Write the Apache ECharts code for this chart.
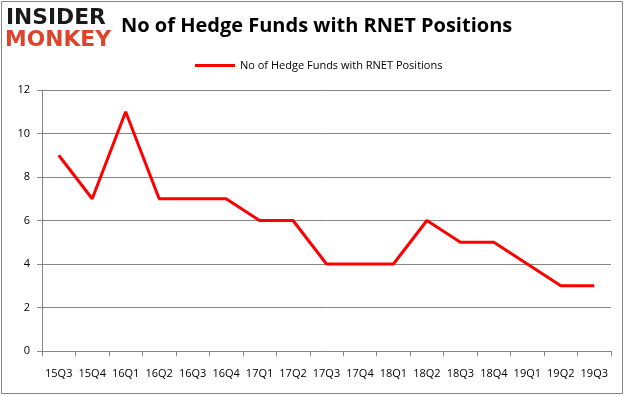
<!DOCTYPE html>
<html>
<head>
<meta charset="utf-8">
<script src="https://cdn.jsdelivr.net/npm/echarts@6/dist/echarts.min.js"></script>
<style>
html,body{margin:0;padding:0;background:#fff;}
#main{width:626px;height:397px;}
</style>
</head>
<body>
<div id="main"></div>
<script>
// 季度
var quarters = ['15Q3','15Q4','16Q1','16Q2','16Q3','16Q4','17Q1','17Q2','17Q3','17Q4','18Q1','18Q2','18Q3','18Q4','19Q1','19Q2','19Q3'];
// 持仓基金数
var funds = [9,7,11,7,7,7,6,6,4,4,4,6,5,5,4,3,3];
var seriesName = 'No of Hedge Funds with RNET Positions';
var yTicks = [0,2,4,6,8,10,12];

var chart = echarts.init(document.getElementById('main'));
var option = {
	animation:false,
	backgroundColor:'#fff',
	title:{
		text:seriesName,
		left:116,
		top:11,
		textStyle:{
			fontFamily:'Open Sans',
			fontSize:20,
			fontWeight:'bold',
			color:'#000'
		}
	},
	legend:{
		top:55,
		left:190,
		itemWidth:40,
		itemHeight:3,
		icon:'rect',
		textStyle:{
			fontFamily:'Open Sans',
			fontSize:11,
			color:'#000'
		},
		data:[seriesName]
	},
	grid:{
		left:42,
		right:15,
		top:90,
		bottom:46
	},
	xAxis:{
		type:'category',
		data:quarters,
		boundaryGap:true,
		axisLine:{lineStyle:{color:'#868686',width:1}},
		axisTick:{show:true,length:5,lineStyle:{color:'#868686'}},
		axisLabel:{
			fontFamily:'Open Sans',
			fontSize:11,
			color:'#000',
			margin:17,
			interval:0
		}
	},
	yAxis:{
		type:'value',
		min:yTicks[0],
		max:yTicks[yTicks.length-1],
		interval:2,
		axisLine:{show:true,lineStyle:{color:'#868686'}},
		axisTick:{show:true,length:5,lineStyle:{color:'#868686'}},
		splitLine:{lineStyle:{color:'#868686',width:1}},
		axisLabel:{
			fontFamily:'Open Sans',
			fontSize:11,
			color:'#000',
			margin:12
		}
	},
	graphic:[
		{//外框
			type:'rect',
			shape:{x:1.5,y:1.5,width:621,height:392},
			style:{fill:'none',stroke:'#868686',lineWidth:1},
			silent:true
		},
		{//logo
			type:'text',
			x:6,
			y:7,
			scaleX:1.1,
			style:{
				text:'INSIDER',
				font:'900 22px "DejaVu Sans Condensed"',
				fill:'#1a1a1a'
			}
		},
		{
			type:'text',
			x:5,
			y:29,
			scaleX:1.1,
			style:{
				text:'MONKEY',
				font:'900 22px "DejaVu Sans Condensed"',
				fill:'#e0432b'
			}
		}
	],
	series:[{
		name:seriesName,
		type:'line',
		data:funds,
		symbol:'none',
		lineStyle:{color:'#ff0000',width:3},
		itemStyle:{color:'#ff0000'}
	}]
};
chart.setOption(option);
</script>
</body>
</html>
